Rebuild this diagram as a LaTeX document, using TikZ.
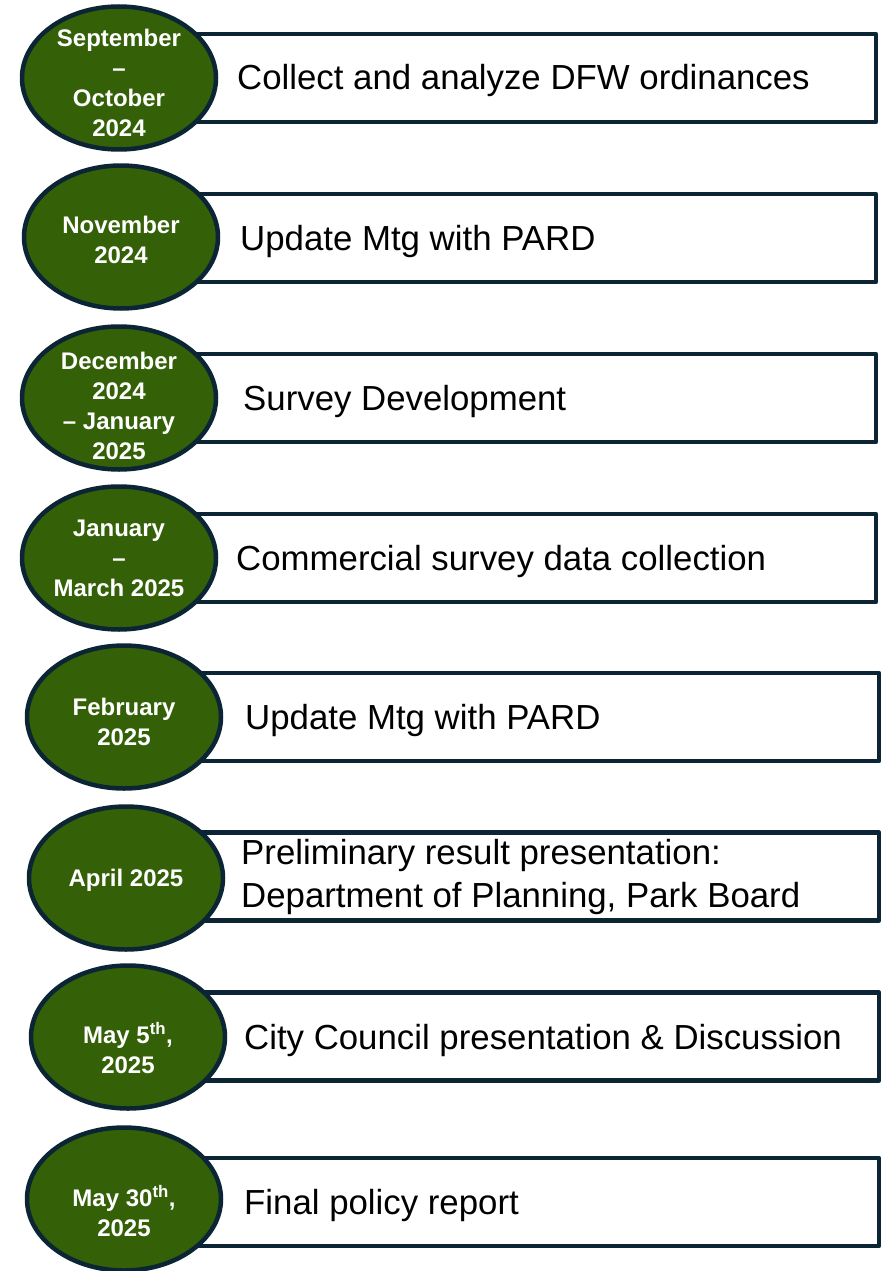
\documentclass[tikz,border=0pt]{standalone}
\usepackage{fontspec}
\setmainfont{Liberation Sans}
\usetikzlibrary{shapes.geometric}

\definecolor{datefill}{RGB}{52,96,8}
\definecolor{edgeblue}{RGB}{12,37,52}

\begin{document}
\begin{tikzpicture}[line cap=round,line join=round,x=1pt,y=-1pt,
  dateshape/.style={ellipse, draw=edgeblue, line width=4.5pt, fill=datefill,
    minimum width=194pt, minimum height=143pt, inner sep=0pt},
  datetext/.style={inner sep=0pt, align=center, text=white,
    font=\fontsize{24}{30}\selectfont\bfseries},
  taskbox/.style={rectangle, draw=edgeblue, line width=4.5pt, fill=white,
    minimum width=726pt, minimum height=88pt, inner sep=0pt},
  tasktext/.style={anchor=base west, inner sep=0pt, align=left,
    font=\fontsize{34.8}{43}\selectfont}]
\useasboundingbox (0,0) rectangle (884,1271);

\node[taskbox] (boxA) at (513,78) {};
\node[taskbox] (boxB) at (513,238) {};
\node[taskbox] (boxC) at (513,398) {};
\node[taskbox] (boxD) at (513,558) {};
\node[taskbox, minimum width=729pt] (boxE) at (514.5,717) {};
\node[taskbox, minimum width=729pt] (boxF) at (514.5,876.5) {};
\node[taskbox, minimum width=729pt] (boxG) at (514.5,1036.5) {};
\node[taskbox, minimum width=729pt] (boxH) at (514.5,1202) {};

\node[tasktext] (taskA) at (237,90) {Collect and analyze DFW ordinances};
\node[tasktext] (taskB) at (240,250.5) {Update Mtg with PARD};
\node[tasktext] (taskC) at (243,410.5) {Survey Development};
\node[tasktext] (taskD) at (236,570.5) {Commercial survey data collection};
\node[tasktext] (taskE) at (245,729.5) {Update Mtg with PARD};
\node[tasktext] (taskF) at (241,907) {Preliminary result presentation:\\Department of Planning, Park Board};
\node[tasktext] (taskG) at (244,1049) {City Council presentation \& Discussion};
\node[tasktext] (taskH) at (244,1214.5) {Final policy report};

\node[dateshape] (dateA) at (119,78) {};
\node[dateshape] (dateB) at (121,237) {};
\node[dateshape] (dateC) at (119,398) {};
\node[dateshape] (dateD) at (119,558) {};
\node[dateshape] (dateE) at (124,717) {};
\node[dateshape] (dateF) at (126,878) {};
\node[dateshape] (dateG) at (128,1037) {};
\node[dateshape] (dateH) at (124,1199) {};

\node[datetext] (labelA) at ([yshift=-5pt]dateA.center) {September\\--\\October\\2024};
\node[datetext] (labelB) at ([yshift=-3pt]dateB.center) {November\\2024};
\node[datetext] (labelC) at ([yshift=-8pt]dateC.center) {December\\2024\\-- January\\2025};
\node[datetext] (labelD) at (dateD.center) {January\\--\\March 2025};
\node[datetext] (labelE) at ([yshift=-5pt]dateE.center) {February\\2025};
\node[datetext] (labelF) at ([yshift=-2.5pt]dateF.center) {April 2025};
\node[datetext] (labelG) at ([yshift=-11pt]dateG.center) {May 5\textsuperscript{th},\\2025};
\node[datetext] (labelH) at ([yshift=-12pt]dateH.center) {May 30\textsuperscript{th},\\2025};

\end{tikzpicture}
\end{document}
